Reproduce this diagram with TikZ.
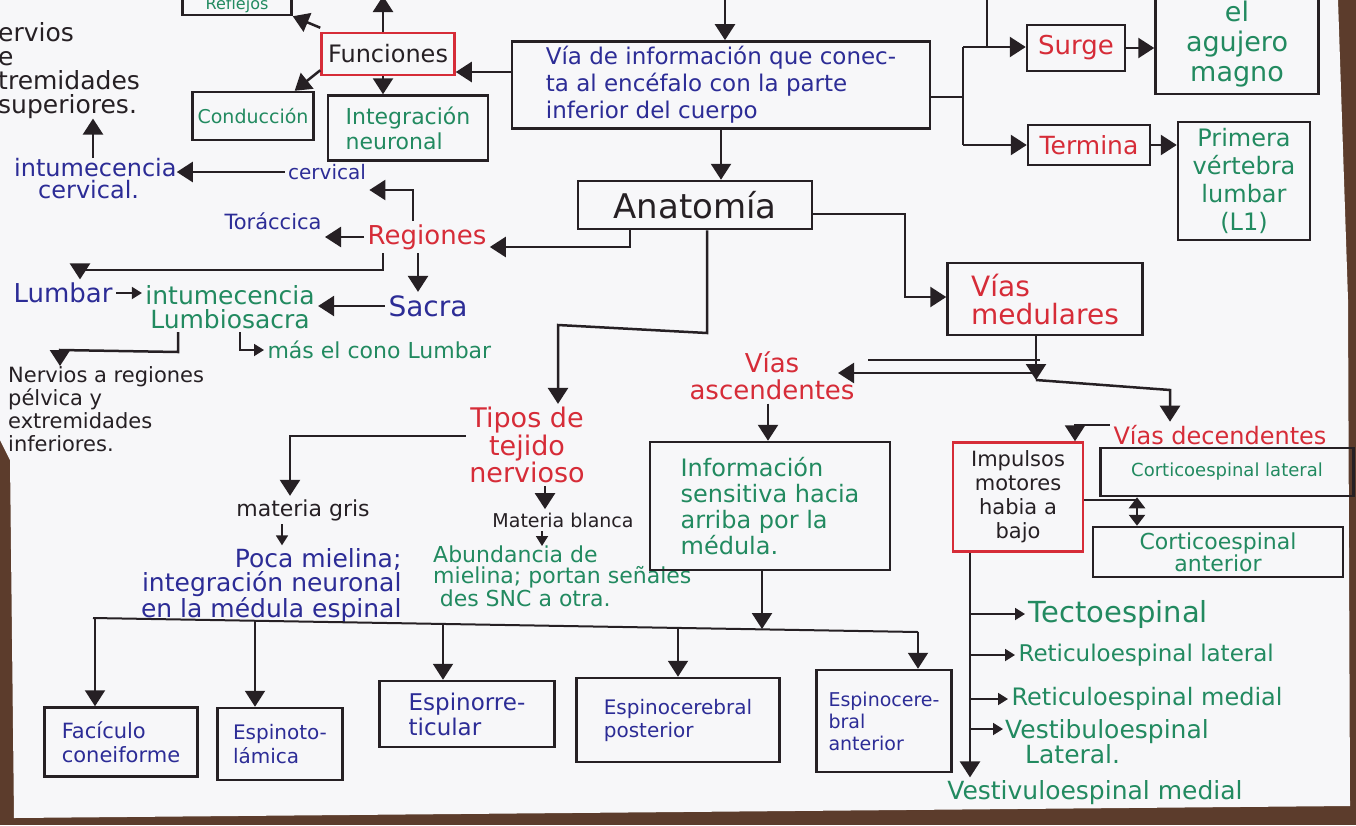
\documentclass[tikz,border=0pt]{standalone}
\usepackage{fontspec}
\setmainfont{DejaVu Sans}
\usetikzlibrary{arrows.meta}

\definecolor{tinta}{RGB}{38,32,36}
\definecolor{azul}{RGB}{44,44,150}
\definecolor{verde}{RGB}{34,138,96}
\definecolor{rojo}{RGB}{214,44,56}
\definecolor{papel}{RGB}{247,247,249}
\definecolor{mesa}{RGB}{92,60,44}

\newcommand{\tam}[2]{\fontsize{#1}{#2}\selectfont}

\begin{document}
\begin{tikzpicture}[x=1pt, y=-1pt,
	>={Triangle[length=16pt,width=20pt]},
	trazo/.style={draw=tinta, line width=2.5pt},
	caja/.style={trazo, inner sep=5pt},
	cajaroja/.style={caja, draw=rojo},
	tazul/.style={text=azul}, tverde/.style={text=verde},
	trojo/.style={text=rojo}, tnegro/.style={text=tinta},
	chica/.style={>={Triangle[length=10pt,width=12pt]}, line width=1.8pt},
	font=\tam{22}{24}]
	
	\fill[mesa] (0,0) rectangle (1356,825);
	\fill[papel] (0,0) -- (1338,0) -- (1348,300) -- (1350,806) -- (14,818) -- (10,460) -- (0,440) -- cycle;
	\useasboundingbox (0,0) rectangle (1356,825);
	
	% funciones
	\node[caja, minimum width=109pt, minimum height=40pt, tverde, font=\tam{16}{18}] (refl) at (237,-5) {};
	\node[tverde, font=\tam{16}{18}, inner sep=1pt] at (237,5) {Reflejos};
	\node[cajaroja, minimum width=133pt, minimum height=42pt, tnegro, font=\tam{24}{26}] (fun) at (388,54) {Funciones};
	\node[caja, minimum width=117pt, minimum height=48pt, tverde, font=\tam{19}{21}] (cond) at (253,116) {Conducción};
	\node[caja, minimum width=160pt, minimum height=65pt, tverde, align=left, font=\tam{22}{25}] (integ) at (408,128) {Integración\\neuronal};
	\coordinate (arr) at (383,-4);
	
	\draw[trazo, ->] (fun.north -| arr) -- (arr);
	\draw[trazo, ->] ([yshift=4pt]fun.north west) -- (refl.south east);
	\draw[trazo, ->] ([yshift=6pt]fun.south west) -- ([xshift=-20pt]cond.north east);
	\draw[trazo, ->] (fun.south -| arr) -- (integ.north -| arr);
	
	% via
	\node[caja, minimum width=418pt, minimum height=86pt, tazul, align=left, font=\tam{23}{27}] (via) at (721,85) {Vía de información que conec-\\ta al encéfalo con la parte\\inferior del cuerpo};
	\coordinate (arv) at (725,-4);
	\draw[trazo, ->] (arv) -- (via.north -| arv);
	\draw[trazo, ->] (via.west |- 0,72) -- (fun.east |- 0,72);
	
	\node[caja, minimum width=98pt, minimum height=46pt, trojo, font=\tam{26}{28}] (surge) at (1076,48) {Surge};
	\node[caja, minimum width=163pt, minimum height=100pt, tverde, align=center, font=\tam{27}{30}] (aguj) at (1237,44) {el\\agujero\\magno};
	\node[caja, minimum width=122pt, minimum height=40pt, trojo, font=\tam{25}{27}] (term) at (1089,145) {Termina};
	\node[caja, minimum width=132pt, minimum height=118pt, tverde, align=center, font=\tam{24}{28}] (prim) at (1244,181) {Primera\\vértebra\\lumbar\\(L1)};
	
	\coordinate (br1) at (963,47);
	\coordinate (br2) at (963,145);
	\draw[trazo] (via.east |- 0,97) -- (963,97);
	\draw[trazo] (987,-4) -- (987,47);
	\draw[trazo] (br1) -- (br2);
	\draw[trazo, ->] (br1) -- (surge.west |- br1);
	\draw[trazo, ->] (br2) -- (term.west |- br2);
	\draw[trazo, ->] (surge.east) -- (aguj.west |- surge.east);
	\draw[trazo, ->] (term.east) -- (prim.west |- term.east);
	
	% anatomia y regiones
	\node[caja, minimum width=234pt, minimum height=48pt, tnegro, font=\tam{34}{36}] (anat) at (695,205) {Anatomía};
	\draw[trazo, ->] (via.south) -- (anat.north -| via.south);
	
	\node[trojo, font=\tam{26}{28}] (reg) at (427,237) {Regiones};
	\node[tazul, font=\tam{20}{22}] (cerv) at (327,172) {cervical};
	\node[tazul, align=left, anchor=north west, inner sep=0pt, font=\tam{24}{22}] (intc) at (14,158) {intumecencia\\\hspace*{1em}cervical.};
	\node[tnegro, align=left, anchor=north west, inner sep=0pt, font=\tam{25}{24}] (sup) at (-2,22) {ervios\\e\\tremidades\\superiores.};
	\node[tazul, font=\tam{21}{23}] (tor) at (273,221) {Toráccica};
	\node[tazul, font=\tam{26}{28}] (lumb) at (63,293) {Lumbar};
	\node[tazul, font=\tam{28}{30}] (sac) at (428,306) {Sacra};
	\node[tverde, align=center, font=\tam{25}{24}] (intl) at (230,307) {intumecencia\\Lumbiosacra};
	\node[tverde, anchor=west, font=\tam{22}{24}] (cono) at (264,350) {más el cono Lumbar};
	\node[tnegro, align=left, anchor=north west, inner sep=0pt, font=\tam{21}{23}] (ninf) at (8,366) {Nervios a regiones\\pélvica y\\extremidades\\inferiores.};
	
	\coordinate (a1) at (630,247);
	\coordinate (c1) at (413,190);
	\coordinate (l1) at (383,270);
	\coordinate (l2) at (80,270);
	\coordinate (k1) at (240,350);
	\coordinate (n1) at (178,352);
	\coordinate (n2) at (60,350);
	
	\draw[trazo, ->] (anat.south -| a1) -- (a1) -- (reg.east |- a1);
	\draw[trazo, ->] (reg.north -| c1) -- (c1) -- (cerv.east |- c1);
	\draw[trazo, ->] (cerv.west) -- (intc.east |- cerv.west);
	\draw[trazo, ->] (intc.north -| 93,0) -- (sup.south -| 93,0);
	\draw[trazo, ->] (reg.west) -- (tor.east |- reg.west);
	\draw[trazo, ->] (reg.south -| l1) -- (l1) -- (l2) -- (lumb.north -| l2);
	\draw[trazo, ->] (reg.south -| 418,0) -- (sac.north -| 418,0);
	\draw[trazo, ->] (sac.west) -- (intl.east |- sac.west);
	\draw[trazo, ->, chica] (lumb.east) -- (intl.west |- lumb.east);
	\draw[trazo, ->, chica] (intl.south -| k1) -- (k1) -- (cono.west);
	\draw[trazo, ->] (intl.south -| n1) -- (n1) -- (n2) -- (ninf.north -| n2);
	
	% tejido nervioso
	\node[trojo, align=center, font=\tam{27}{23}] (tip) at (527,445) {Tipos de\\tejido\\nervioso};
	\node[tnegro, font=\tam{22}{24}] (gris) at (303,510) {materia gris};
	\node[tazul, align=right, anchor=east, font=\tam{25}{22}] (poca) at (405,586) {Poca mielina;\\integración neuronal\\en la médula espinal};
	\node[tnegro, font=\tam{19}{21}] (blanca) at (563,520) {Materia blanca};
	\node[tverde, align=left, anchor=north west, inner sep=0pt, font=\tam{22}{21}] (abun) at (433,546) {Abundancia de\\mielina; portan señales\\\hspace*{0.3em}des SNC a otra.};
	
	\coordinate (t1) at (707,333);
	\coordinate (t2) at (558,325);
	\coordinate (g1) at (290,436);
	
	\draw[trazo, ->] (anat.south -| t1) -- (t1) -- (t2) -- (tip.north -| t2);
	\draw[trazo, ->] (tip.west |- g1) -- (g1) -- (gris.north -| g1);
	\draw[trazo, ->, chica] (gris.south -| 282,0) -- (poca.north -| 282,0);
	\draw[trazo, ->] (tip.south -| 545,0) -- (blanca.north -| 545,0);
	\draw[trazo, ->, chica] (blanca.south -| 542,0) -- (abun.north -| 542,0);
	
	% vias
	\node[caja, minimum width=195pt, minimum height=72pt, trojo, align=left, font=\tam{28}{28}] (vmed) at (1045,299) {Vías\\medulares};
	\node[trojo, align=center, font=\tam{26}{27}] (vasc) at (772,376) {Vías\\ascendentes};
	\node[caja, minimum width=240pt, minimum height=128pt, tverde, align=left, font=\tam{24}{26}] (info) at (770,506) {Información\\sensitiva hacia\\arriba por la\\médula.};
	\node[trojo, font=\tam{24}{26}] (vdec) at (1220,435) {Vías decendentes};
	\node[cajaroja, minimum width=130pt, minimum height=109pt, tnegro, align=center, font=\tam{21}{24}] (imp) at (1018,497) {Impulsos\\motores\\habia a\\bajo};
	\node[caja, minimum width=253pt, minimum height=48pt, tverde, font=\tam{18}{20}] (cl) at (1227,472) {Corticoespinal lateral};
	\node[caja, minimum width=250pt, minimum height=50pt, tverde, align=center, font=\tam{22}{22}] (ca) at (1218,552) {Corticoespinal\\anterior};
	
	\coordinate (e1) at (905,214);
	\coordinate (e2) at (905,297);
	\coordinate (m1) at (1036,380);
	\coordinate (m2) at (1170,390);
	\coordinate (d1) at (1075,425);
	
	\draw[trazo, ->] (anat.east |- e1) -- (e1) -- (e2) -- (vmed.west |- e2);
	\draw[trazo, ->] (vmed.south -| m1) -- (m1);
	\draw[trazo] (1040,360) -- (868,360);
	\draw[trazo, ->] (1040,373) -- ([xshift=-20pt]vasc.east |- 0,373);
	\draw[trazo, ->] (m1) -- (m2) -- (vdec.north -| m2);
	\draw[trazo, ->] (vasc.south -| 768,0) -- (info.north -| 768,0);
	\draw[trazo, ->] (vdec.west |- d1) -- (d1) -- (imp.north -| d1);
	\draw[trazo] (imp.east |- 0,500) -- (1137,500);
	\draw[trazo, <->, >={Triangle[length=11pt,width=16pt]}] (cl.south -| 1137,0) -- (ca.north -| 1137,0);
	
	% descendentes
	\node[tverde, anchor=west, font=\tam{29}{30}] (tect) at (1025,614) {Tectoespinal};
	\node[tverde, anchor=west, font=\tam{23}{25}] (retl) at (1015,655) {Reticuloespinal lateral};
	\node[tverde, anchor=west, font=\tam{24}{26}] (retm) at (1008,699) {Reticuloespinal medial};
	\node[tverde, anchor=north west, align=left, inner sep=2pt, font=\tam{25}{23}] (vesl) at (1003,717) {Vestibuloespinal\\\hspace*{0.8em}Lateral.};
	\node[tverde, font=\tam{25}{27}] (vesm) at (1095,793) {Vestivuloespinal medial};
	
	\coordinate (tr) at (970,0);
	\draw[trazo, ->] (imp.south -| tr) -- (vesm.north -| tr);
	\draw[trazo, ->, chica] (tect.west -| tr) -- (tect.west);
	\draw[trazo, ->, chica] (retl.west -| tr) -- (retl.west);
	\draw[trazo, ->, chica] (retm.west -| tr) -- (retm.west);
	\draw[trazo, ->, chica] (tr |- 0,729) -- (vesl.west |- 0,729);
	
	% haces ascendentes
	\node[caja, minimum width=153pt, minimum height=69pt, tazul, align=left, font=\tam{21}{24}] (fac) at (121,742) {Facículo\\coneiforme};
	\node[caja, minimum width=125pt, minimum height=72pt, tazul, align=left, font=\tam{20}{24}] (espt) at (280,744) {Espinoto-\\lámica};
	\node[caja, minimum width=175pt, minimum height=66pt, tazul, align=left, font=\tam{23}{25}] (espr) at (467,714) {Espinorre-\\ticular};
	\node[caja, minimum width=203pt, minimum height=84pt, tazul, align=left, font=\tam{20}{23}] (espp) at (678,720) {Espinocerebral\\posterior};
	\node[caja, minimum width=135pt, minimum height=102pt, tazul, align=left, font=\tam{19}{22}] (espa) at (884,721) {Espinocere-\\bral\\anterior};
	
	\coordinate (b0) at (93,618);
	\coordinate (b1) at (918,632);
	\draw[trazo, line width=2pt] (b0) -- (b1);
	\draw[trazo, ->] (info.south -| 762,0) -- (762,629);
	\foreach \x/\n in {95/fac, 255/espt, 443/espr, 678/espp, 918/espa}{
		\pgfmathsetmacro\yb{618+(\x-93)*14/825}
		\draw[trazo, line width=2pt, ->] (\x,\yb) -- (\n.north -| \x,0);
	}
	
\end{tikzpicture}
\end{document}
